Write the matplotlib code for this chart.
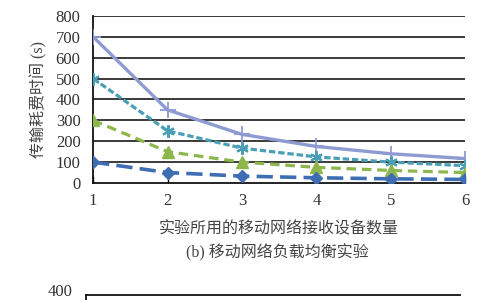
import matplotlib
matplotlib.use('Agg')
import matplotlib.pyplot as plt

# data
devices = [1, 2, 3, 4, 5, 6]
series_a = [700, 350, 233, 175, 140, 117]
series_b = [500, 250, 167, 125, 100, 83]
series_c = [300, 150, 100, 75, 60, 50]
series_d = [100, 50, 33, 25, 20, 17]
yticks = [0, 100, 200, 300, 400, 500, 600, 700, 800]

fam = ['Liberation Serif', 'Noto Sans CJK SC']
plt.rcParams['font.family'] = fam

fig = plt.figure(figsize=(4.8, 3.0), dpi=100)
ax = fig.add_axes([0.194, 0.39, 0.775, 0.557])

for y in yticks[1:]:
    ax.axhline(y, color='#2b2b2b', lw=1.3, zorder=1)

ax.plot(devices, series_a, color='#8d9bd2', lw=2.4, marker='+', ms=11, mew=1.3,
        zorder=3)
ax.plot(devices, series_b, color='#4a9fb6', lw=2.3, ls=(0, (2.0, 0.9)),
        marker=(6, 2, 0), ms=9, mew=1.5, zorder=4)
ax.plot(devices, series_c, color='#8db64c', lw=2.3, ls=(0, (3.0, 1.8)),
        marker='^', ms=8, zorder=5)
ax.plot(devices, series_d, color='#3e6db3', lw=2.6, ls=(0, (4.5, 2.0)),
        marker='D', ms=6.5, zorder=6)

ax.set_xlim(1, 6)
ax.set_ylim(0, 800)
ax.set_xticks(devices)
ax.set_yticks(yticks)
ax.tick_params(axis='x', direction='in', length=5, width=1, pad=7, labelsize=12,
               labelcolor='#333333')
ax.tick_params(axis='y', length=0, pad=9, labelsize=12, labelcolor='#333333')
for s in ['top', 'right']:
    ax.spines[s].set_visible(False)
ax.spines['left'].set_linewidth(1.3)
ax.spines['bottom'].set_linewidth(1.3)
ax.spines['left'].set_color('#111111')
ax.spines['bottom'].set_color('#111111')

ax.set_ylabel('传输耗费时间 (s)', fontsize=11.5, labelpad=6, color='#444444')
ax.set_xlabel('实验所用的移动网络接收设备数量', fontsize=11.5, labelpad=9,
              color='#444444')
fig.text(0.578, 0.158, '(b) 移动网络负载均衡实验', ha='center', va='center',
         fontsize=11.5, color='#444444')

# top of the next panel, cut off by the image edge
fig.text(0.152, 0.027, '400', ha='right', va='center', fontsize=12, color='#333333')
fig.add_artist(plt.Line2D([0.179, 0.958], [0.017, 0.017], color='#111111', lw=1.3))
fig.add_artist(plt.Line2D([0.179, 0.179], [0.0, 0.017], color='#111111', lw=1.3))

fig.savefig('out.png', dpi=100)
